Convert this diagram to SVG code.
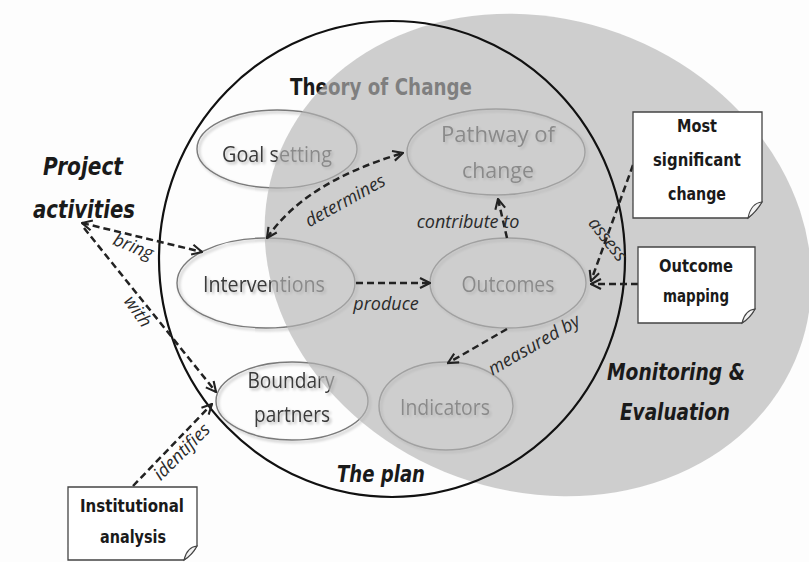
<svg xmlns="http://www.w3.org/2000/svg" width="809" height="562" viewBox="0 0 809 562">
  <defs>
    <marker id="arrow" viewBox="0 0 10 10" refX="9" refY="5" markerWidth="5" markerHeight="5" orient="auto-start-reverse" markerUnits="strokeWidth">
      <path d="M1,1 L9,5 L1,9" fill="none" stroke="#222" stroke-width="1.7" stroke-linejoin="miter"/>
    </marker>
    <filter id="soft" x="-10%" y="-10%" width="125%" height="130%">
      <feGaussianBlur in="SourceAlpha" stdDeviation="1.5"/>
      <feOffset dx="1.5" dy="2" result="b"/>
      <feComponentTransfer><feFuncA type="linear" slope="0.3"/></feComponentTransfer>
      <feMerge><feMergeNode/><feMergeNode in="SourceGraphic"/></feMerge>
    </filter>
  </defs>
  <style>
    .node ellipse { fill: none; stroke: #7a7a7a; stroke-width: 1.4; }
    .ntxt { font-family: "Open Sans", "Liberation Sans", sans-serif; font-size: 21px; fill: #3a3a3a; text-anchor: middle; }
    .hand { font-family: "DejaVu Sans", "Liberation Sans", sans-serif; font-weight: bold; fill: #1a1a1a; text-anchor: middle; }
    .hi { font-style: italic; }
    .lbl { font-family: "Open Sans", "Liberation Sans", sans-serif; font-style: italic; font-size: 18px; fill: #2a2a2a; text-anchor: middle; }
    .conn path { fill: none; stroke: #222; stroke-width: 2.5; stroke-dasharray: 7 4; }
    .box path.frame { fill: #fff; stroke: #444; stroke-width: 1.3; }
    .box path.fold { fill: #f2f2f2; stroke: #444; stroke-width: 1.1; }
    .btxt { font-family: "DejaVu Sans", "Liberation Sans", sans-serif; font-weight: bold; font-size: 17px; fill: #1a1a1a; text-anchor: middle; }
  </style>

  <rect width="809" height="562" fill="#fdfdfd"/>

  <!-- Theory of Change content (sits under the M&E field) -->
  <text class="hand" x="381" y="95" font-size="23" textLength="182" lengthAdjust="spacingAndGlyphs">Theory of Change</text>

  <g id="goal-setting" class="node" filter="url(#soft)">
    <ellipse cx="277" cy="149" rx="80" ry="39"/>
    <text class="ntxt" x="277" y="162" textLength="110" lengthAdjust="spacingAndGlyphs">Goal setting</text>
  </g>
  <g id="pathway-of-change" class="node" filter="url(#soft)">
    <ellipse cx="496" cy="152" rx="89" ry="43"/>
    <text class="ntxt" x="498" y="142" textLength="114" lengthAdjust="spacingAndGlyphs">Pathway of</text>
    <text class="ntxt" x="498" y="178" textLength="72" lengthAdjust="spacingAndGlyphs">change</text>
  </g>
  <g id="interventions" class="node" filter="url(#soft)">
    <ellipse cx="266" cy="283" rx="89" ry="45"/>
    <text class="ntxt" x="264" y="292" textLength="122" lengthAdjust="spacingAndGlyphs">Interventions</text>
  </g>
  <g id="outcomes" class="node" filter="url(#soft)">
    <ellipse cx="508" cy="283" rx="78" ry="45"/>
    <text class="ntxt" x="508" y="292" textLength="93" lengthAdjust="spacingAndGlyphs">Outcomes</text>
  </g>
  <g id="boundary-partners" class="node" filter="url(#soft)">
    <ellipse cx="292" cy="401" rx="76" ry="39"/>
    <text class="ntxt" x="291" y="388" textLength="87" lengthAdjust="spacingAndGlyphs">Boundary</text>
    <text class="ntxt" x="292" y="422" textLength="76" lengthAdjust="spacingAndGlyphs">partners</text>
  </g>
  <g id="indicators" class="node" filter="url(#soft)">
    <ellipse cx="446" cy="406" rx="67" ry="44"/>
    <text class="ntxt" x="445" y="415" textLength="90" lengthAdjust="spacingAndGlyphs">Indicators</text>
  </g>

  <!-- Monitoring & Evaluation field -->
  <ellipse id="monitoring-field" cx="0" cy="0" rx="278" ry="236" transform="translate(538,255) rotate(20)" fill="#b6b6b6" fill-opacity="0.65"/>

  <!-- The plan boundary -->
  <ellipse id="the-plan" cx="392" cy="259" rx="233" ry="238" fill="none" stroke="#111" stroke-width="2.2"/>

  <!-- Connectors -->
  <g id="connectors" class="conn">
    <path d="M82,223 L202,252" marker-start="url(#arrow)" marker-end="url(#arrow)"/>
    <path d="M84,228 L216,392" marker-end="url(#arrow)"/>
    <path d="M267,238 Q305,182 403,153" marker-start="url(#arrow)" marker-end="url(#arrow)"/>
    <path d="M507,238 L498,199" marker-end="url(#arrow)"/>
    <path d="M356,283 L430,283" marker-end="url(#arrow)"/>
    <path d="M507,329 L448,363" marker-end="url(#arrow)"/>
    <path d="M633,165 L591,281" marker-end="url(#arrow)"/>
    <path d="M638,284 L591,284" marker-end="url(#arrow)"/>
    <path d="M133,486 L212,404" marker-end="url(#arrow)"/>
  </g>

  <!-- Connector labels -->
  <text class="lbl" transform="translate(131,252) rotate(22)">bring</text>
  <text class="lbl" transform="translate(133,315) rotate(55)">with</text>
  <text class="lbl" font-size="20" transform="translate(348,206) rotate(-29)">determines</text>
  <text class="lbl" x="468" y="228" font-size="19">contribute to</text>
  <text class="lbl" x="386" y="310" font-size="19">produce</text>
  <text class="lbl" font-size="19" transform="translate(537,350) rotate(-30)">measured by</text>
  <text class="lbl" font-size="19" transform="translate(603,243) rotate(52)">assess</text>
  <text class="lbl" font-size="19" transform="translate(186,456) rotate(-45)">identifies</text>

  <!-- Free labels -->
  <text class="hand hi" x="83" y="175" font-size="24" textLength="80" lengthAdjust="spacingAndGlyphs">Project</text>
  <text class="hand hi" x="84" y="218" font-size="24" textLength="102" lengthAdjust="spacingAndGlyphs">activities</text>
  <text class="hand hi" x="381" y="482" font-size="23" textLength="88" lengthAdjust="spacingAndGlyphs">The plan</text>
  <text class="hand hi" x="676" y="380" font-size="23" textLength="138" lengthAdjust="spacingAndGlyphs">Monitoring &amp;</text>
  <text class="hand hi" x="675" y="420" font-size="23" textLength="110" lengthAdjust="spacingAndGlyphs">Evaluation</text>

  <!-- Method boxes -->
  <g id="most-significant-change" class="box">
    <path class="frame" d="M633,112 H762 V202 Q756,212 748,218 H633 Z"/>
    <path class="fold" d="M762,202 Q751,203 748,218 Q756,212 762,202 Z"/>
    <text class="btxt" x="697" y="132" textLength="40" lengthAdjust="spacingAndGlyphs">Most</text>
    <text class="btxt" x="697" y="166" textLength="88" lengthAdjust="spacingAndGlyphs">significant</text>
    <text class="btxt" x="697" y="200" textLength="58" lengthAdjust="spacingAndGlyphs">change</text>
  </g>
  <g id="outcome-mapping" class="box">
    <path class="frame" d="M638,247 H755 V309 Q750,318 742,323 H638 Z"/>
    <path class="fold" d="M755,309 Q745,310 742,323 Q750,318 755,309 Z"/>
    <text class="btxt" x="696" y="272" textLength="74" lengthAdjust="spacingAndGlyphs">Outcome</text>
    <text class="btxt" x="696" y="302" textLength="66" lengthAdjust="spacingAndGlyphs">mapping</text>
  </g>
  <g id="institutional-analysis" class="box">
    <path class="frame" d="M68,487 H197 V546 Q192,555 184,560 H68 Z"/>
    <path class="fold" d="M197,546 Q187,547 184,560 Q192,555 197,546 Z"/>
    <text class="btxt" x="132" y="512" textLength="104" lengthAdjust="spacingAndGlyphs">Institutional</text>
    <text class="btxt" x="133" y="543" textLength="66" lengthAdjust="spacingAndGlyphs">analysis</text>
  </g>
</svg>
